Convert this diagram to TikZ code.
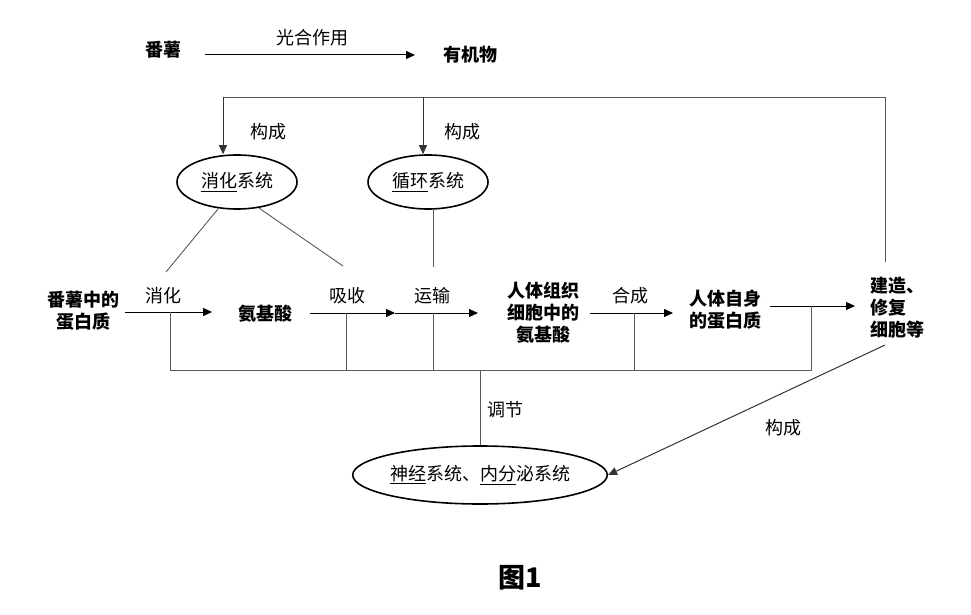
\documentclass[tikz,border=0pt]{standalone}
\usepackage{fontspec}
\setmainfont{Noto Sans CJK SC}
\usetikzlibrary{arrows.meta,shapes.geometric}
\begin{document}
\begin{tikzpicture}[x=1pt,y=-1pt,
  txt/.style={font=\fontsize{18}{22}\selectfont,align=center,inner sep=0pt},
  btxt/.style={font=\fontsize{18}{22}\selectfont\bfseries,align=center,inner sep=0pt},
  ell/.style={draw,ellipse,line width=1.6pt,font=\fontsize{18}{22}\selectfont,inner sep=0pt},
  arr/.style={-{Triangle[length=9pt,width=8pt]},line width=1pt},
  ln/.style={draw=black!65,line width=0.9pt}]
\useasboundingbox (0,0) rectangle (971,615);
\node[btxt] (fs) at (163,50) {番薯};
\node[btxt] (yjw) at (470,55) {有机物};
\node[txt] (gh) at (312,38) {光合作用};
\coordinate (a1) at (205,55); \coordinate (a2) at (415,55);
\draw[arr] (a1) -- (a2);
% ellipses
\node[ell,minimum width=120pt,minimum height=54pt] (xh) at (237,182) {\underline{消化}系统};
\node[ell,minimum width=120pt,minimum height=54pt] (xhx) at (428,182) {\underline{循环}系统};
\node[ell,minimum width=248pt,minimum height=58pt] (sj) at (480,475) {\underline{神经}系统、\underline{内分}泌系统};
% top loop
\coordinate (t1) at (223,97); \coordinate (t2) at (423,97); \coordinate (t3) at (885,97); \coordinate (t4) at (885,262);
\draw[ln] (t4) -- (t3) -- (t1);
\draw[arr,line width=0.9pt,black!80] (t1) -- (xh.north -| t1);
\draw[arr,line width=0.9pt,black!80] (t2) -- (xhx.north -| t2);
\node[txt] (gc1) at (268,132) {构成};
\node[txt] (gc2) at (462,132) {构成};
% main row
\node[btxt] (fsd) at (83,311) {番薯中的\\蛋白质};
\node[txt] (lxh) at (163,296) {消化};
\node[btxt] (ajs) at (265,314) {氨基酸};
\node[txt] (lxs) at (347,296) {吸收};
\node[txt] (lys) at (432,296) {运输};
\node[btxt] (rtz) at (543,313) {人体组织\\细胞中的\\氨基酸};
\node[txt] (lhc) at (630,296) {合成};
\node[btxt] (rtd) at (725,310) {人体自身\\的蛋白质};
\node[btxt,align=left] (jz) at (897,308) {建造、\\修复\\细胞等};
\coordinate (m1) at (125,312); \coordinate (m2) at (212,312);
\coordinate (m3) at (310,313); \coordinate (m4) at (395,313); \coordinate (m5) at (478,313);
\coordinate (m6) at (590,313); \coordinate (m7) at (673,313);
\coordinate (m8) at (770,306); \coordinate (m9) at (855,306);
\draw[arr] (m1) -- (m2);
\draw[arr] (m3) -- (m4);
\draw[arr] (m4) -- (m5);
\draw[arr] (m6) -- (m7);
\draw[arr] (m8) -- (m9);
% lines from ellipses
\coordinate (d1) at (166,272); \coordinate (d2) at (343,266); \coordinate (d3) at (433,267);
\draw[ln] (xh.235) -- (d1);
\draw[ln] (xh.310) -- (d2);
\draw[ln] (xhx.south -| d3) -- (d3);
% bottom line
\coordinate (b1) at (170,370); \coordinate (b2) at (811,370);
\draw[ln] (170,312) -- (b1) -- (b2) -- (811,306);
\draw[ln] (346,313) -- (346,370);
\draw[ln] (433,313) -- (433,370);
\draw[ln] (634,313) -- (634,370);
\coordinate (r1) at (480,370);
\draw[ln] (r1) -- (sj.north -| r1);
\node[txt] (tj) at (505,410) {调节};
% diagonal
\coordinate (dg) at (885,345);
\draw[arr,line width=1pt,black!80] (dg) -- (sj.east);
\node[txt] (gc3) at (783,428) {构成};
\node[font=\fontsize{27}{30}\selectfont\bfseries] (fig) at (520,578) {图1};
\end{tikzpicture}
\end{document}
